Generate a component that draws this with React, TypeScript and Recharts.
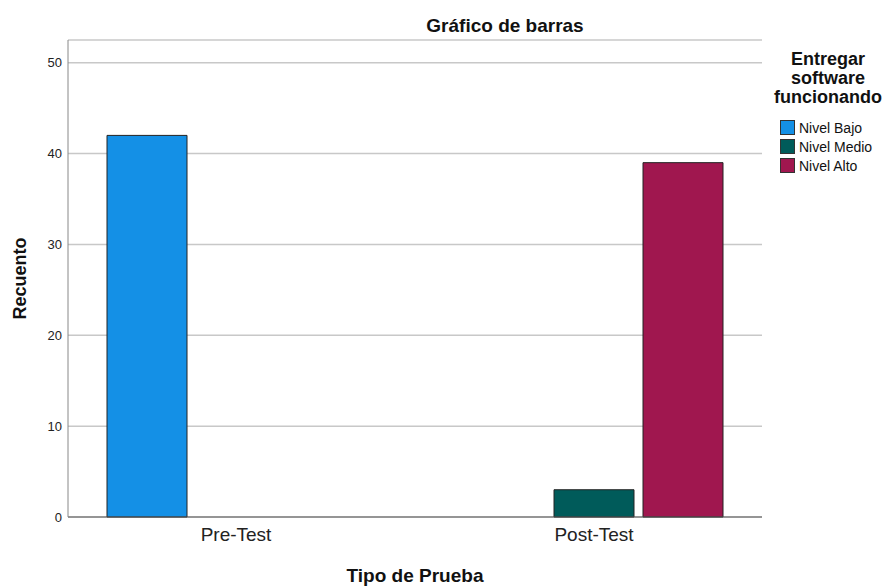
import { BarChart, Bar, XAxis, YAxis, CartesianGrid, Label } from 'recharts';

const CATEGORIES = ['Pre-Test', 'Post-Test'];
const NIVEL_BAJO = [42, 0];
const NIVEL_MEDIO = [0, 3];
const NIVEL_ALTO = [0, 39];
const Y_TICKS = [0, 10, 20, 30, 40, 50];

const SERIES = [
  { key: 'bajo', name: 'Nivel Bajo', color: '#1490E6' },
  { key: 'medio', name: 'Nivel Medio', color: '#005B5A' },
  { key: 'alto', name: 'Nivel Alto', color: '#A0174F' },
];

const data = CATEGORIES.map((cat, i) => ({
  cat,
  bajo: NIVEL_BAJO[i],
  medio: NIVEL_MEDIO[i],
  alto: NIVEL_ALTO[i],
}));

const FONT = '"Liberation Sans", Arial, sans-serif';

// legend drawn outside the chart so it doesn't eat plot width
function LegendBox() {
  return (
    <div style={{ position: 'absolute', left: 766, top: 50, width: 124, fontFamily: FONT, color: '#111' }}>
      <div style={{ fontWeight: 'bold', fontSize: 18, lineHeight: '19px', textAlign: 'center' }}>
        Entregar
        <br />
        software
        <br />
        funcionando
      </div>
      <div style={{ marginTop: 11, marginLeft: 14 }}>
        {SERIES.map((s) => (
          <div key={s.key} style={{ display: 'flex', alignItems: 'center', height: 19, fontSize: 14 }}>
            <span
              style={{
                width: 13,
                height: 13,
                background: s.color,
                border: '1px solid #333',
                marginRight: 4,
                display: 'inline-block',
              }}
            />
            {s.name}
          </div>
        ))}
      </div>
    </div>
  );
}

export default function App() {
  return (
    <div style={{ position: 'absolute', left: 0, top: 0, width: 888, height: 587, background: '#fff', fontFamily: FONT }}>
      <div
        style={{
          position: 'absolute',
          left: 385,
          top: 15,
          width: 240,
          textAlign: 'center',
          fontWeight: 'bold',
          fontSize: 19,
          lineHeight: '22px',
          color: '#111',
          zIndex: 1,
        }}
      >
        Gráfico de barras
      </div>
      <LegendBox />
      <BarChart
        width={888}
        height={587}
        data={data}
        margin={{ top: 40, right: 126, left: 8, bottom: 35 }}
        barCategoryGap={50}
        barGap={9}
      >
        <CartesianGrid horizontal vertical={false} stroke="#c8c8c8" strokeWidth={1.5} />
        <XAxis
          dataKey="cat"
          height={35}
          padding={{ left: -11, right: -11 }}
          tickLine={false}
          axisLine={{ stroke: '#555' }}
          tick={{ fontSize: 19, fill: '#222', fontFamily: FONT }}
          tickMargin={5}
        >
          <Label value="Tipo de Prueba" position="bottom" offset={17} style={{ fontSize: 19, fontWeight: 'bold', fill: '#111', fontFamily: FONT }} />
        </XAxis>
        <YAxis
          width={60}
          domain={[0, 52.5]}
          ticks={Y_TICKS}
          tickLine={false}
          axisLine={{ stroke: '#888' }}
          tick={{ fontSize: 13, fill: '#222', fontFamily: FONT }}
          tickMargin={0}
        >
          <Label
            value="Recuento"
            angle={-90}
            position="insideLeft"
            offset={12}
            style={{ fontSize: 18, fontWeight: 'bold', fill: '#111', fontFamily: FONT, textAnchor: 'middle' }}
          />
        </YAxis>
        {SERIES.map((s) => (
          <Bar key={s.key} dataKey={s.key} name={s.name} fill={s.color} stroke="#222" strokeWidth={1} isAnimationActive={false} />
        ))}
      </BarChart>
    </div>
  );
}
